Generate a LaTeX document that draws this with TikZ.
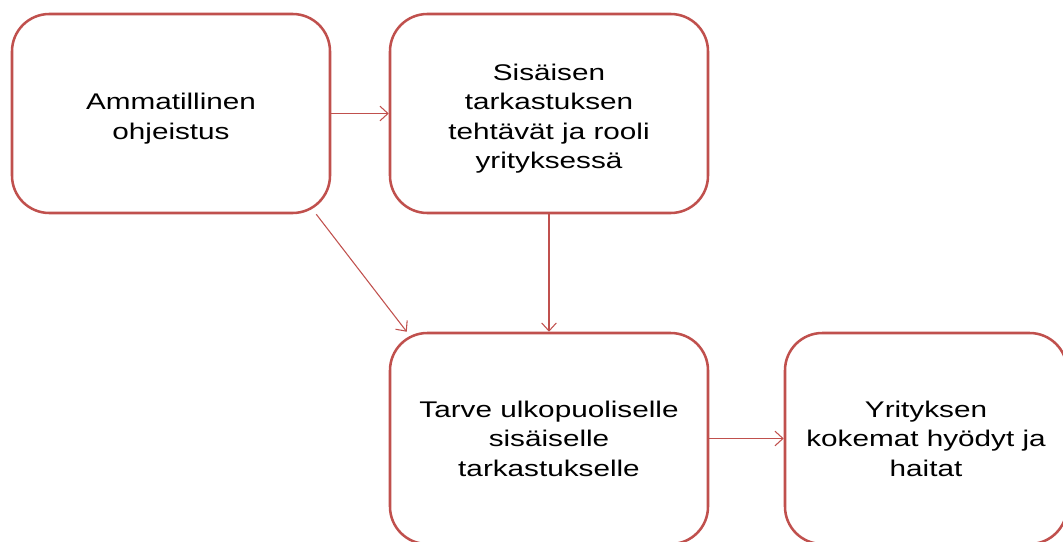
\documentclass[tikz,border=0pt]{standalone}
\usepackage{fontspec}
\setmainfont{Liberation Sans}
\newfontfamily\wideface[FakeStretch=1.31]{Liberation Sans}
\usetikzlibrary{arrows.meta,calc}
\definecolor{boxred}{HTML}{C0504D}
\tikzset{
  box/.style={draw=boxred, line width=1.9pt, rounded corners=28pt, fill=white,
    align=center, font=\wideface\fontsize{17}{22.1}\selectfont, inner sep=0pt},
  link/.style={draw=boxred, line width=0.8pt, -{Straight Barb[length=6pt,width=11pt,line width=0.8pt]}}
}
\begin{document}
\begin{tikzpicture}[x=0.75pt,y=-0.75pt]
\useasboundingbox (0,0) rectangle (1063,542);
\node[box, text height=42pt, minimum width=318*0.75pt, minimum height=199*0.75pt] (A) at (171,113.5) {Ammatillinen\\ohjeistus};
\node[box, text height=86.5pt, minimum width=318*0.75pt, minimum height=199*0.75pt] (B) at (549,113.5) {Sisäisen\\tarkastuksen\\tehtävät ja rooli\\yrityksessä};
\node[box, minimum width=318*0.75pt, minimum height=211*0.75pt] (C) at (549,438.5) {Tarve ulkopuoliselle\\sisäiselle\\tarkastukselle};
\node[box, minimum width=282*0.75pt, minimum height=211*0.75pt] (D) at (926,438.5) {Yrityksen\\kokemat hyödyt ja\\haitat};
\draw[link] (A.east) -- (B.west);
\draw[link] (B.south) -- (C.north);
\draw[link] ($(A.south east)+(-15,0)$) -- ($(C.north west)+(18,0)$);
\draw[link] (C.east) -- (D.west);
\end{tikzpicture}
\end{document}
